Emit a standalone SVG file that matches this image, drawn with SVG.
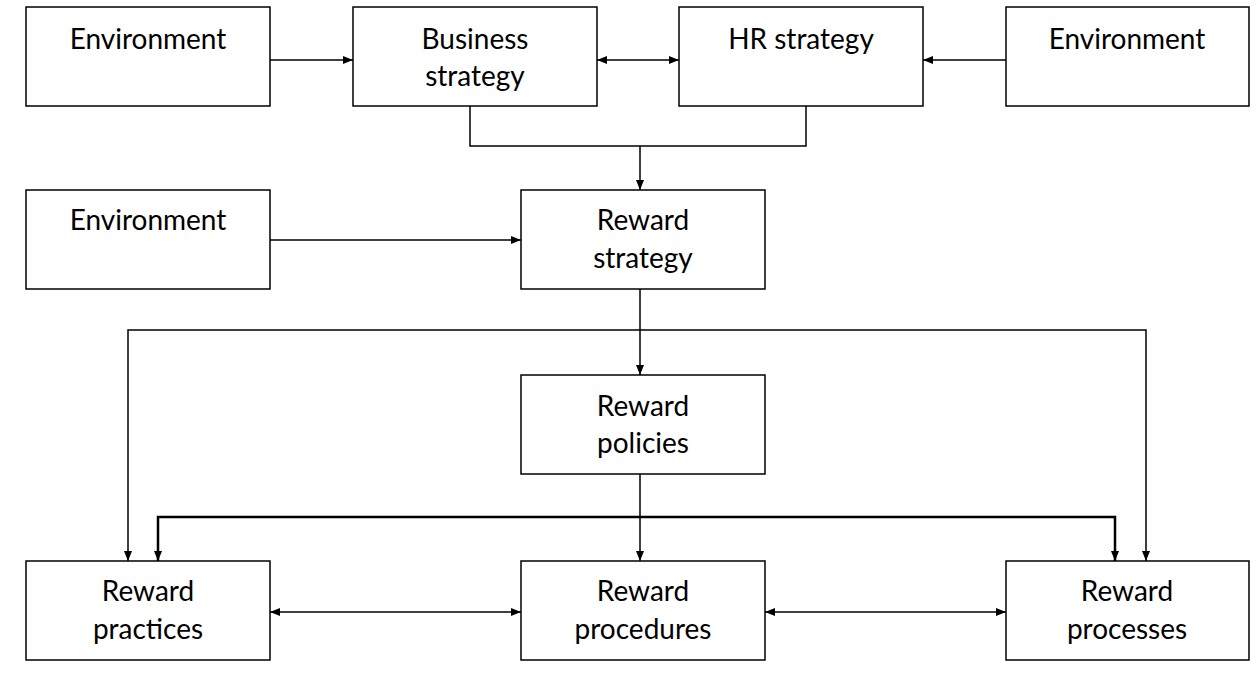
<svg xmlns="http://www.w3.org/2000/svg" width="1260" height="675" viewBox="0 0 1260 675">
<style>
.b{fill:#fff;stroke:#000;stroke-width:1.5}
.t{font-family:Lato,"Open Sans",sans-serif;font-size:28px;text-anchor:middle;fill:#000}
.c{fill:none;stroke:#000;stroke-width:1.5}
</style>
<defs>
<marker id="a" viewBox="0 0 10 10" refX="10" refY="5" markerWidth="10" markerHeight="10" markerUnits="userSpaceOnUse" orient="auto-start-reverse"><path d="M0,1 L10,5 L0,9 z" fill="#000"/></marker>
</defs>
<rect width="1260" height="675" fill="#fff"/>
<g id="env1"><rect class="b" x="26" y="7" width="244" height="99"/><text class="t" x="148" y="49">Environment</text></g>
<g id="business"><rect class="b" x="353" y="7" width="244" height="99"/><text class="t" x="475" y="49">Business</text><text class="t" x="475" y="86">strategy</text></g>
<g id="hr"><rect class="b" x="679" y="7" width="244" height="99"/><text class="t" x="801" y="49">HR strategy</text></g>
<g id="env2"><rect class="b" x="1006" y="7" width="243" height="99"/><text class="t" x="1127" y="49">Environment</text></g>
<g id="env3"><rect class="b" x="26" y="190" width="244" height="99"/><text class="t" x="148" y="230">Environment</text></g>
<g id="rstrategy"><rect class="b" x="521" y="190" width="244" height="99"/><text class="t" x="643" y="230">Reward</text><text class="t" x="643" y="268">strategy</text></g>
<g id="rpolicies"><rect class="b" x="521" y="375" width="244" height="99"/><text class="t" x="643" y="416">Reward</text><text class="t" x="643" y="453">policies</text></g>
<g id="rpractices"><rect class="b" x="26" y="561" width="244" height="99"/><text class="t" x="148" y="601">Reward</text><text class="t" x="148" y="639">practices</text></g>
<g id="rprocedures"><rect class="b" x="521" y="561" width="244" height="99"/><text class="t" x="643" y="601">Reward</text><text class="t" x="643" y="639">procedures</text></g>
<g id="rprocesses"><rect class="b" x="1006" y="561" width="243" height="99"/><text class="t" x="1127" y="601">Reward</text><text class="t" x="1127" y="639">processes</text></g>
<g id="connectors">
<path class="c" d="M270,60 H353" marker-end="url(#a)"/>
<path class="c" d="M597,60 H679" marker-start="url(#a)" marker-end="url(#a)"/>
<path class="c" d="M1006,60 H923" marker-end="url(#a)"/>
<path class="c" d="M470,106 V146 H806 V106"/>
<path class="c" d="M640,146 V190" marker-end="url(#a)"/>
<path class="c" d="M270,240 H521" marker-end="url(#a)"/>
<path class="c" d="M640,289 V375" marker-end="url(#a)"/>
<path class="c" d="M128,561 V330 H1146 V561" marker-start="url(#a)" marker-end="url(#a)"/>
<path class="c" d="M640,474 V561" marker-end="url(#a)"/>
<path class="c" style="stroke-width:2.5" d="M158,561 V517 H1115 V561" marker-start="url(#a)" marker-end="url(#a)"/>
<path class="c" d="M270,612 H521" marker-start="url(#a)" marker-end="url(#a)"/>
<path class="c" d="M765,612 H1006" marker-start="url(#a)" marker-end="url(#a)"/>
</g>
</svg>
